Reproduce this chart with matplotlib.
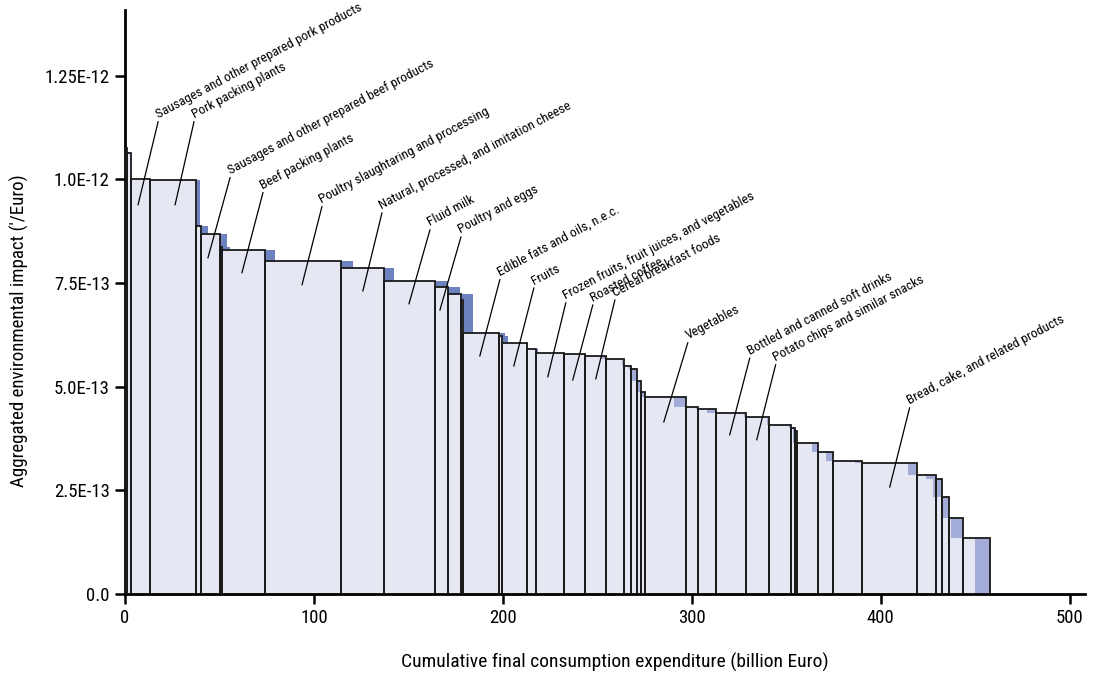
import numpy as np
import matplotlib.pyplot as plt
from matplotlib import font_manager

# right edge of each sector on the cumulative expenditure axis (billion Euro)
cum_end = np.array([1.22, 3.33, 13.23, 37.41, 40.37, 50.11, 51.32, 73.92, 114.29, 136.88,
                    164.18, 171.06, 177.78, 178.84, 198.04, 199.47, 212.54, 217.46, 232.43, 243.39,
                    254.34, 264.18, 267.72, 271.27, 273.02, 275.50, 296.98, 303.33, 312.70, 328.57,
                    340.90, 352.75, 354.50, 355.71, 366.83, 374.97, 390.32, 419.42, 429.10, 432.43,
                    436.14, 443.54, 457.83])
# same sectors, second ranking (blue difference)
cum_end_alt = np.array([1.22, 3.33, 13.23, 39.68, 43.92, 54.00, 55.56, 79.37, 120.63, 142.33,
                        170.90, 177.25, 183.97, 184.39, 201.06, 202.80, 213.23, 218.52, 232.43, 243.39,
                        251.69, 263.00, 266.67, 268.10, 270.74, 272.49, 290.48, 302.12, 307.94, 327.51,
                        339.68, 351.32, 353.44, 353.60, 363.49, 370.90, 386.24, 414.29, 423.81, 427.51,
                        431.75, 437.04, 449.74])
# aggregated impact per Euro (x 1e-13)
impact = np.array([10.76, 10.64, 10.01, 9.99, 8.88, 8.68, 8.36, 8.30, 8.02, 7.86,
                   7.56, 7.41, 7.23, 7.09, 6.29, 6.23, 6.05, 5.90, 5.81, 5.79,
                   5.74, 5.66, 5.49, 5.42, 5.14, 4.86, 4.75, 4.50, 4.46, 4.36,
                   4.26, 4.08, 4.00, 3.94, 3.65, 3.43, 3.21, 3.17, 2.87, 2.77,
                   2.35, 1.84, 1.36]) * 1e-13

labels = ["Sausages and other prepared pork products", "Pork packing plants",
          "Sausages and other prepared beef products", "Beef packing plants",
          "Poultry slaughtaring and processing", "Natural, processed, and imitation cheese",
          "Fluid milk", "Poultry and eggs", "Edible fats and oils, n.e.c.", "Fruits",
          "Frozen fruits, fruit juices, and vegetables", "Roasted coffee",
          "Cereal breakfast foods", "Vegetables", "Bottled and canned soft drinks",
          "Potato chips and similar snacks", "Bread, cake, and related products"]
# leader line: point inside the sector -> start of the text
tip_x = [6.9, 26.5, 43.9, 61.9, 93.7, 125.9, 150.3, 166.7, 187.8, 205.8,
         223.8, 237.0, 249.2, 285.2, 320.1, 334.4, 404.8]
tip_y = np.array([9.39, 9.39, 8.11, 7.75, 7.46, 7.31, 7.00, 6.85, 5.74, 5.50,
                  5.24, 5.16, 5.19, 4.15, 3.84, 3.72, 2.58]) * 1e-13
text_x = [17.5, 36.5, 55.6, 73.0, 104.2, 136.0, 161.4, 177.8, 198.4, 216.4,
          233.3, 247.6, 259.3, 297.9, 330.7, 344.4, 415.3]
text_y = np.array([11.39, 11.39, 10.04, 9.68, 9.34, 9.19, 8.78, 8.61, 7.58, 7.38,
                   7.02, 6.97, 7.09, 6.06, 5.69, 5.53, 4.49]) * 1e-13

names = {f.name for f in font_manager.fontManager.ttflist}
if 'Roboto Condensed' in names:
    plt.rcParams['font.family'] = ['Roboto Condensed', 'DejaVu Sans']
else:
    plt.rcParams['font.family'] = ['DejaVu Sans']
    plt.rcParams['font.stretch'] = 'condensed'

light = '#e5e7f3'
blue_out = '#6e82c0'
blue_in = '#a3acd8'

fig = plt.figure(figsize=(10.93, 6.73), dpi=100)
ax = fig.add_axes([0.1144, 0.1174, 0.878, 0.868])

starts = np.concatenate([[0], cum_end[:-1]])
widths = cum_end - starts
ax.bar(starts, impact, width=widths, align='edge', color=light, lw=0, zorder=1)

# difference between the two step curves
def step_val(ends, xs):
    i = np.searchsorted(ends, xs, side='right')
    out = np.zeros_like(xs)
    ok = i < len(ends)
    out[ok] = impact[i[ok]]
    return out

edges = np.unique(np.concatenate([[0], cum_end, cum_end_alt]))
mids = (edges[:-1] + edges[1:]) / 2
k = step_val(cum_end, mids)
b = step_val(cum_end_alt, mids)
w = np.diff(edges)
up = b > k
dn = b < k
ax.bar(edges[:-1][up], (b - k)[up], width=w[up], bottom=k[up], align='edge',
       color=blue_out, lw=0, zorder=2)
ax.bar(edges[:-1][dn], (k - b)[dn], width=w[dn], bottom=b[dn], align='edge',
       color=blue_in, lw=0, zorder=2)

ax.bar(starts, impact, width=widths, align='edge', fill=False, edgecolor='#1a1a1a',
       lw=1.3, zorder=3)

for lab, tx, ty, x, y in zip(labels, tip_x, tip_y, text_x, text_y):
    ax.plot([tx, x], [ty, y], color='black', lw=0.9, zorder=4)
    ax.text(x + 0.8, y + 0.02e-13, lab, rotation=28, rotation_mode='anchor',
            ha='left', va='bottom', fontsize=9.6, zorder=4)

ax.set_xlim(0, 508)
ax.set_ylim(0, 14.09e-13)
ax.set_xticks([0, 100, 200, 300, 400, 500])
ax.set_yticks(np.array([0, 2.5, 5, 7.5, 10, 12.5]) * 1e-13)
ax.set_yticklabels(['0.0', '2.5E-13', '5.0E-13', '7.5E-13', '1.0E-12', '1.25E-12'])
ax.tick_params(length=7, width=1.8, labelsize=13.5, pad=4)
for s in ['top', 'right']:
    ax.spines[s].set_visible(False)
for s in ['left', 'bottom']:
    ax.spines[s].set_linewidth(2)

ax.set_xlabel('Cumulative final consumption expenditure (billion Euro)', fontsize=14)
ax.set_ylabel('Aggregated environmental impact (\u2032/Euro)', fontsize=13.6)
ax.xaxis.set_label_coords(0.51, -0.1)
ax.yaxis.set_label_coords(-0.1, 0.45)

fig.savefig('out.png', dpi=100)
